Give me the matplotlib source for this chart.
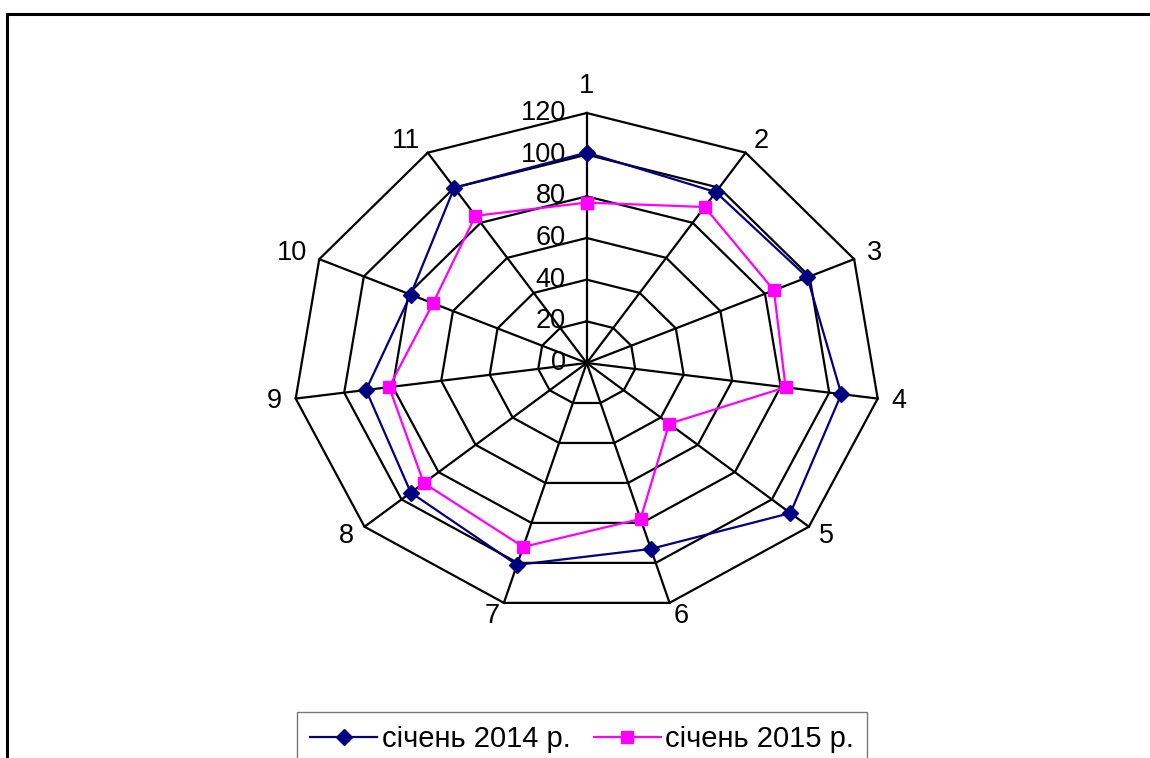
import matplotlib.pyplot as plt
import numpy as np
from matplotlib.patches import Rectangle

plt.rcParams['font.family'] = ['Liberation Sans', 'DejaVu Sans']

# дані
categories = ["1", "2", "3", "4", "5", "6", "7", "8", "9", "10", "11"]
jan_2014 = [101, 97.5, 99, 105, 110, 93, 101, 95, 91, 79, 100]
jan_2015 = [77, 89, 84, 82, 44.5, 78, 92, 88, 81.5, 69, 84]
rings = [0, 20, 40, 60, 80, 100, 120]
series_names = ["січень 2014 р.", "січень 2015 р."]

W, H = 1150, 758
fig = plt.figure(figsize=(W / 100, H / 100), dpi=100)

# осі: центр (586.7, 363) px, радіус 294 px по x і 250 px по y для 120
k = 1.2
cx, cy = 586.7, 363
rx, ry = 294, 250
ax = fig.add_axes([(cx - rx * k) / W, (H - cy - ry * k) / H,
                   2 * rx * k / W, 2 * ry * k / H])
rmax = rings[-1]
ax.set_xlim(-rmax * k, rmax * k)
ax.set_ylim(-rmax * k, rmax * k)
ax.axis("off")

n = len(categories)
theta = np.arange(n) * 2 * np.pi / n
s, c = np.sin(theta), np.cos(theta)


def closed(v):
    v = np.asarray(v, dtype=float)
    return np.append(v, v[0])


# сітка
for r in rings[1:]:
    ax.plot(closed(r * s), closed(r * c), color="black", lw=1.6, zorder=1)
for i in range(n):
    ax.plot([0, rmax * s[i]], [0, rmax * c[i]], color="black", lw=1.6, zorder=1)

# підписи шкали
for r in rings:
    ax.annotate(str(r), (0, r), xytext=(-15, 0), textcoords="offset points",
                ha="right", va="center", fontsize=19.5)

# підписи категорій
for i, lab in enumerate(categories):
    d = 10
    ha = "left" if s[i] > 0.1 else ("right" if s[i] < -0.1 else "center")
    va = "bottom" if c[i] > 0.95 else "center"
    ax.annotate(lab, (rmax * s[i], rmax * c[i]),
                xytext=(d * s[i], d * c[i]), textcoords="offset points",
                ha=ha, va=va, fontsize=19.5)

# ряди
ax.plot(closed(np.array(jan_2014) * s), closed(np.array(jan_2014) * c),
        color="#000080", lw=1.6, marker="D", markersize=8.5, zorder=3,
        label=series_names[0])
ax.plot(closed(np.array(jan_2015) * s), closed(np.array(jan_2015) * c),
        color="#FF00FF", lw=1.6, marker="s", markersize=8.5, zorder=3,
        label=series_names[1])

# рамка
fig.patches.append(Rectangle((7 / W, -0.05), 1.1, 1 - 14 / H + 0.05,
                             transform=fig.transFigure, fill=False,
                             edgecolor="black", lw=2.2))

leg = fig.legend(loc="upper left", bbox_to_anchor=(297 / W, 1 - 712 / H),
                 ncol=2, fontsize=21, frameon=True, fancybox=False,
                 edgecolor="#555555", handlelength=2.3, handletextpad=0.15,
                 columnspacing=0.8, borderpad=0.45, borderaxespad=0)
leg.get_frame().set_linewidth(1.0)

fig.savefig("out.png", dpi=100)
